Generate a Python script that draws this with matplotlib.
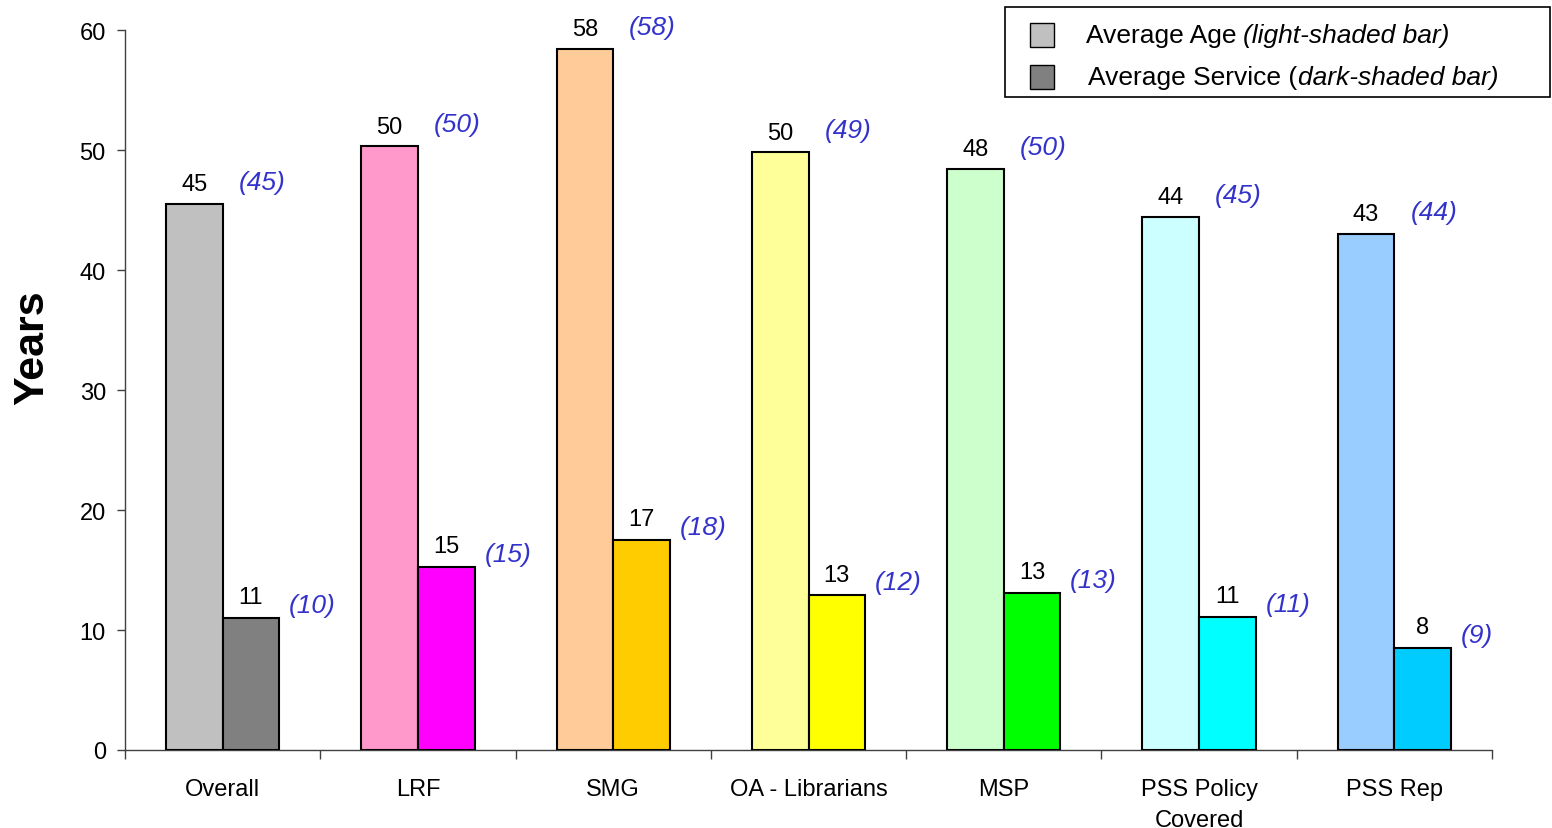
import numpy as np
import matplotlib
matplotlib.use("Agg")
import matplotlib.pyplot as plt
from matplotlib.patches import Rectangle
from matplotlib.offsetbox import TextArea, HPacker, VPacker, DrawingArea, AnchoredOffsetbox

plt.rcParams["font.family"] = ["Liberation Sans", "DejaVu Sans"]

# data
categories = ["Overall", "LRF", "SMG", "OA - Librarians", "MSP", "PSS Policy\nCovered", "PSS Rep"]
avg_age = [45.5, 50.3, 58.4, 49.8, 48.4, 44.4, 43.0]
avg_service = [11.0, 15.25, 17.5, 12.9, 13.1, 11.1, 8.5]
age_labels = ["45", "50", "58", "50", "48", "44", "43"]
service_labels = ["11", "15", "17", "13", "13", "11", "8"]
age_prev = ["(45)", "(50)", "(58)", "(49)", "(50)", "(45)", "(44)"]
service_prev = ["(10)", "(15)", "(18)", "(12)", "(13)", "(11)", "(9)"]
light_colors = ["#C0C0C0", "#FF99CC", "#FFCC99", "#FFFF99", "#CCFFCC", "#CCFFFF", "#99CCFF"]
dark_colors = ["#808080", "#FF00FF", "#FFCC00", "#FFFF00", "#00FF00", "#00FFFF", "#00CCFF"]

BLUE = "#3333CC"

fig = plt.figure(figsize=(15.52, 8.29), dpi=100)
ax = fig.add_axes([125 / 1552, 78 / 829, (1492 - 125) / 1552, (751 - 31) / 829])

x = np.arange(len(categories))
w = 0.29

ax.bar(x - w / 2, avg_age, w, color=light_colors, edgecolor="black", linewidth=1.5, zorder=3)
ax.bar(x + w / 2, avg_service, w, color=dark_colors, edgecolor="black", linewidth=1.5, zorder=3)

for i in range(len(categories)):
    # current values above bars, previous values in blue italics
    ax.annotate(age_labels[i], (x[i] - w / 2, avg_age[i]), xytext=(0, 10),
                textcoords="offset points", ha="center", va="baseline", fontsize=17)
    ax.annotate(service_labels[i], (x[i] + w / 2, avg_service[i]), xytext=(0, 10.5),
                textcoords="offset points", ha="center", va="baseline", fontsize=17)
    ax.annotate(age_prev[i], (x[i], avg_age[i]), xytext=(11.5, 11),
                textcoords="offset points", ha="left", va="baseline",
                fontsize=19, style="italic", color=BLUE)
    ax.annotate(service_prev[i], (x[i] + w, avg_service[i]), xytext=(7, 4.5),
                textcoords="offset points", ha="left", va="baseline",
                fontsize=19, style="italic", color=BLUE)

ax.set_xlim(-0.5, len(categories) - 0.5)
ax.set_ylim(0, 60)
ax.set_yticks(np.arange(0, 61, 10))
ax.set_xticks(x)
ax.set_xticklabels(categories, fontsize=17, linespacing=1.55)
ax.set_xticks(np.arange(-0.5, len(categories)), minor=True)
ax.tick_params(axis="x", which="major", length=0, pad=20)
ax.tick_params(axis="x", which="minor", length=6.5, width=1, color="#404040", direction="out")
ax.tick_params(axis="y", length=5.8, width=1, color="#404040", pad=8, labelsize=17)

for s in ["top", "right"]:
    ax.spines[s].set_visible(False)
for s in ["left", "bottom"]:
    ax.spines[s].set_color("#404040")
    ax.spines[s].set_linewidth(1)

fig.text(32 / 1552, 1 - 348 / 829, "Years", rotation=90, ha="center", va="center",
         fontsize=31, fontweight="bold")

# legend box drawn by hand so the labels can mix upright and italic text
fig.patches.append(Rectangle((1005 / 1552, 1 - 98 / 829), 545 / 1552, 90 / 829,
                             transform=fig.transFigure, facecolor="white",
                             edgecolor="black", linewidth=1.2, zorder=5))


def swatch(color):
    da = DrawingArea(17, 17, 0, 0)
    da.add_artist(Rectangle((0, 0), 17, 17, facecolor=color, edgecolor="black", linewidth=1))
    return da


row1 = HPacker(children=[swatch("#C0C0C0"), DrawingArea(23, 1, 0, 0),
                         TextArea("Average Age ", textprops=dict(fontsize=19)),
                         TextArea("(light-shaded bar)", textprops=dict(fontsize=19, style="italic"))],
               sep=0, align="center")
row2 = HPacker(children=[swatch("#808080"), DrawingArea(25, 1, 0, 0),
                         TextArea("Average Service (", textprops=dict(fontsize=19)),
                         TextArea("dark-shaded bar)", textprops=dict(fontsize=19, style="italic"))],
               sep=0, align="center")
box = VPacker(children=[row1, row2], sep=13, align="left")
anch = AnchoredOffsetbox(loc="upper left", child=box, frameon=False, pad=0, borderpad=0,
                         bbox_to_anchor=(1030 / 1552, 1 - 24 / 829),
                         bbox_transform=fig.transFigure)
anch.set_zorder(6)
fig.add_artist(anch)

fig.savefig("out.png", dpi=100)
